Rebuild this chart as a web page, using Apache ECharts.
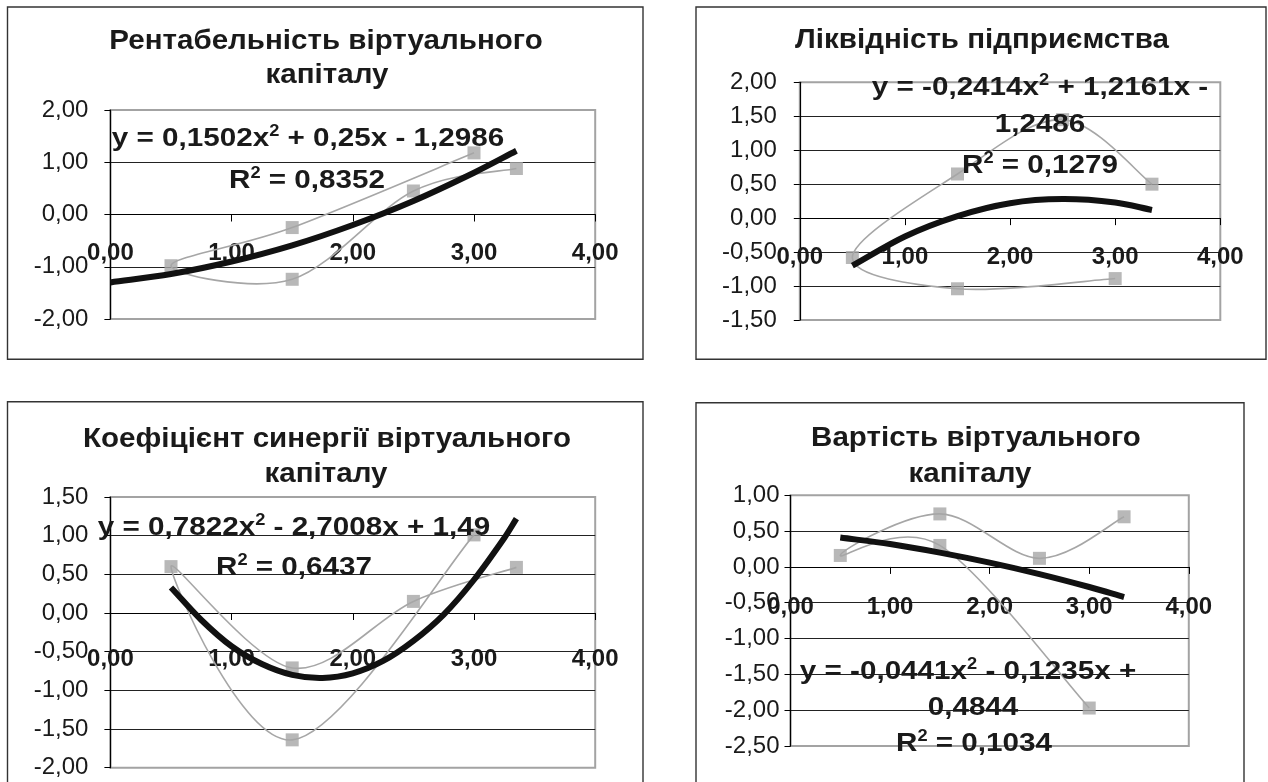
<!DOCTYPE html>
<html><head><meta charset="utf-8">
<script src="https://cdn.jsdelivr.net/npm/echarts@6/dist/echarts.min.js"></script>
<style>html,body{margin:0;padding:0;background:#fff}#c{width:1268px;height:782px}</style>
</head><body><div id="c"></div>
<script>
// ---------- DATA ----------
// Panel 1
const p1Title = ['Рентабельність віртуального', 'капіталу'];
const p1Points = [[3.0, 1.18], [1.5, -0.25], [0.5, -0.98], [1.5, -1.24], [2.5, 0.45], [3.35, 0.88]];
const p1Trend = [[0, -1.30], [0.5, -1.14], [1.0, -0.90], [1.5, -0.59], [2.0, -0.20], [2.5, 0.26], [3.0, 0.80], [3.35, 1.22]];
const p1Eq = ['y = 0,1502x{s|2} + 0,25x - 1,2986', 'R{s|2} = 0,8352'];
const p1Y = [-2, 2, 1];
// Panel 2
const p2Title = ['Ліквідність підприємства'];
const p2Points = [[3.0, -0.89], [1.5, -1.04], [0.5, -0.58], [1.5, 0.65], [2.5, 1.45], [3.35, 0.50]];
const p2Trend = [[0.5, -0.70], [1.0, -0.27], [1.5, 0.03], [2.0, 0.22], [2.5, 0.28], [3.0, 0.23], [3.35, 0.12]];
const p2Eq = ['y = -0,2414x{s|2} + 1,2161x -', '1,2486', 'R{s|2} = 0,1279'];
const p2Y = [-1.5, 2, 0.5];
// Panel 3
const p3Title = ['Коефіцієнт синергії віртуального', 'капіталу'];
const p3Points = [[3.0, 1.01], [1.5, -1.64], [0.5, 0.60], [1.5, -0.71], [2.5, 0.15], [3.35, 0.59]];
const p3Trend = [[0.5, 0.33], [0.75, -0.09], [1.0, -0.43], [1.25, -0.66], [1.5, -0.80], [1.75, -0.84],
                 [2.0, -0.78], [2.25, -0.62], [2.5, -0.36], [2.75, -0.02], [3.0, 0.43], [3.25, 0.97], [3.35, 1.22]];
const p3Eq = ['y = 0,7822x{s|2} - 2,7008x + 1,49', 'R{s|2} = 0,6437'];
const p3Y = [-2, 1.5, 0.5];
// Panel 4
const p4Title = ['Вартість віртуального', 'капіталу'];
const p4Points = [[3.0, -1.97], [1.5, 0.30], [0.5, 0.16], [1.5, 0.74], [2.5, 0.12], [3.35, 0.70]];
const p4Trend = [[0.5, 0.41], [1.0, 0.32], [1.5, 0.20], [2.0, 0.06], [2.5, -0.10], [3.0, -0.28], [3.35, -0.42]];
const p4Eq = ['y = -0,0441x{s|2} - 0,1235x +', '0,4844', 'R{s|2} = 0,1034'];
const p4Y = [-2.5, 1, 0.5];
const xRange = [0, 4, 1];

// ---------- LAYOUT / STYLE ----------
const FONT = '"Liberation Sans", Arial, sans-serif';
const TXT = '#1a1a1a';
const GRAY = '#a6a6a6';
const fmt = v => v.toFixed(2).replace('.', ',');

const panels = [
  {title: p1Title, pts: p1Points, trend: p1Trend, eq: p1Eq, y: p1Y,
   grid: {left: 110.4, top: 110, width: 484.8, height: 209}, ym: 22, xm: 27,
   frame: [7.5, 7, 635.5, 352.3],
   titlePos: [[326, 41], [327, 75]], eqPos: [[308, 139], [307, 181]]},
  {title: p2Title, pts: p2Points, trend: p2Trend, eq: p2Eq, y: p2Y,
   grid: {left: 799.8, top: 82.3, width: 420.5, height: 237.7}, ym: 23, xm: 27,
   frame: [696, 7, 570, 352.3],
   titlePos: [[982, 40]], eqPos: [[1040, 88], [1040, 125], [1040, 166]]},
  {title: p3Title, pts: p3Points, trend: p3Trend, eq: p3Eq, y: p3Y,
   grid: {left: 110.4, top: 497, width: 484.8, height: 270.7}, ym: 22, xm: 34,
   frame: [7.5, 401.7, 635.5, 420],
   titlePos: [[327, 439], [326, 474]], eqPos: [[294, 528], [294, 568]]},
  {title: p4Title, pts: p4Points, trend: p4Trend, eq: p4Eq, y: p4Y,
   grid: {left: 790.5, top: 495.3, width: 398.3, height: 250.7}, ym: 11, xm: 28,
   frame: [696, 402.7, 548, 420],
   titlePos: [[976, 438], [970, 474]], eqPos: [[968, 672], [973, 708], [974, 744]]}
];

// smoothed connecting line through the points in their data order (Excel-style smoothing)
function curveSeries(idx, pts, color, width, z) {
  return {
    type: 'custom', xAxisIndex: idx, yAxisIndex: idx, z: z, silent: true,
    data: [pts[0]],
    renderItem: function (params, api) {
      const px = pts.map(p => api.coord(p));
      let d = 'M' + px[0][0] + ' ' + px[0][1];
      for (let i = 0; i < px.length - 1; i++) {
        const p0 = px[i - 1] || px[i], p1 = px[i], p2 = px[i + 1], p3 = px[i + 2] || px[i + 1];
        const c1x = p1[0] + (p2[0] - p0[0]) / 6, c1y = p1[1] + (p2[1] - p0[1]) / 6;
        const c2x = p2[0] - (p3[0] - p1[0]) / 6, c2y = p2[1] - (p3[1] - p1[1]) / 6;
        d += ' C' + c1x + ' ' + c1y + ' ' + c2x + ' ' + c2y + ' ' + p2[0] + ' ' + p2[1];
      }
      return {type: 'path', shape: {pathData: d},
        style: {fill: null, stroke: color, lineWidth: width, lineCap: 'butt', lineJoin: 'round'}};
    }
  };
}

// smooth curve through points ordered by x (cubic Hermite with finite-difference slopes)
function trendSeries(idx, pts, color, width, z) {
  return {
    type: 'custom', xAxisIndex: idx, yAxisIndex: idx, z: z, silent: true,
    data: [pts[0]],
    renderItem: function (params, api) {
      const px = pts.map(p => api.coord(p));
      const n = px.length;
      const m = px.map((p, i) => {
        const a = px[Math.max(0, i - 1)], b = px[Math.min(n - 1, i + 1)];
        return (b[1] - a[1]) / (b[0] - a[0]);
      });
      let d = 'M' + px[0][0] + ' ' + px[0][1];
      for (let i = 0; i < n - 1; i++) {
        const h = px[i + 1][0] - px[i][0];
        const c1x = px[i][0] + h / 3, c1y = px[i][1] + m[i] * h / 3;
        const c2x = px[i + 1][0] - h / 3, c2y = px[i + 1][1] - m[i + 1] * h / 3;
        d += ' C' + c1x + ' ' + c1y + ' ' + c2x + ' ' + c2y + ' ' + px[i + 1][0] + ' ' + px[i + 1][1];
      }
      return {type: 'path', shape: {pathData: d},
        style: {fill: null, stroke: color, lineWidth: width, lineCap: 'butt', lineJoin: 'round'}};
    }
  };
}

const option = {
  backgroundColor: '#fff', animation: false,
  grid: [], xAxis: [], yAxis: [], series: [], graphic: []
};

panels.forEach((p, i) => {
  option.grid.push(Object.assign({show: true, borderColor: '#a3a3a3', borderWidth: 2,
    backgroundColor: 'transparent', z: 0}, p.grid));
  // place the x axis on the zero line of the y scale
  const zeroOffset = -p.grid.height * (0 - p.y[0]) / (p.y[1] - p.y[0]);
  option.xAxis.push({
    type: 'value', gridIndex: i, min: xRange[0], max: xRange[1], interval: xRange[2], z: 3,
    position: 'bottom', offset: zeroOffset,
    axisLine: {onZero: false, lineStyle: {color: '#000', width: 1.2}},
    axisTick: {show: true, length: 7, lineStyle: {color: '#000'}},
    splitLine: {show: false},
    axisLabel: {formatter: fmt, margin: p.xm, color: TXT, fontFamily: FONT,
      fontWeight: 'bold', fontSize: 24, showMinLabel: true, showMaxLabel: true, hideOverlap: false}
  });
  option.yAxis.push({
    type: 'value', gridIndex: i, min: p.y[0], max: p.y[1], interval: p.y[2], z: 3,
    axisLine: {show: true, onZero: false, lineStyle: {color: '#000', width: 1.2}},
    axisTick: {show: true, length: 6, lineStyle: {color: '#000'}},
    splitLine: {show: true, showMinLine: false, showMaxLine: false,
      lineStyle: {color: '#222', width: 1}},
    axisLabel: {formatter: fmt, margin: p.ym, color: TXT, fontFamily: FONT,
      fontSize: 24, showMinLabel: true, showMaxLabel: true}
  });
  option.series.push(curveSeries(i, p.pts, GRAY, 1.6, 4));
  option.series.push({
    type: 'scatter', xAxisIndex: i, yAxisIndex: i, data: p.pts, z: 5,
    symbol: 'rect', symbolSize: 13, itemStyle: {color: GRAY}, silent: true
  });
  option.series.push(trendSeries(i, p.trend, '#111', 6, 6));
  // frame
  option.graphic.push({type: 'rect', z: 1, silent: true,
    shape: {x: p.frame[0], y: p.frame[1], width: p.frame[2], height: p.frame[3]},
    style: {fill: null, stroke: '#333', lineWidth: 1.4}});
  p.title.forEach((t, k) => {
    option.graphic.push({type: 'text', z: 100, silent: true,
      x: p.titlePos[k][0], y: p.titlePos[k][1], scaleX: 1.055,
      style: {text: t, fill: TXT, font: 'bold 28px ' + FONT, align: 'center', verticalAlign: 'middle'}});
  });
  p.eq.forEach((t, k) => {
    option.graphic.push({type: 'text', z: 100, silent: true,
      x: p.eqPos[k][0], y: p.eqPos[k][1], scaleX: 1.14,
      style: {text: t, fill: TXT, fontFamily: FONT, fontWeight: 'bold', fontSize: 26,
        align: 'center', verticalAlign: 'middle', lineHeight: 30,
        rich: {s: {fontFamily: FONT, fontWeight: 'bold', fontSize: 16, fill: TXT,
          verticalAlign: 'top', lineHeight: 30}}}});
  });
});

const chart = echarts.init(document.getElementById('c'), null, {renderer: 'canvas'});
chart.setOption(option);
</script>
</body></html>
